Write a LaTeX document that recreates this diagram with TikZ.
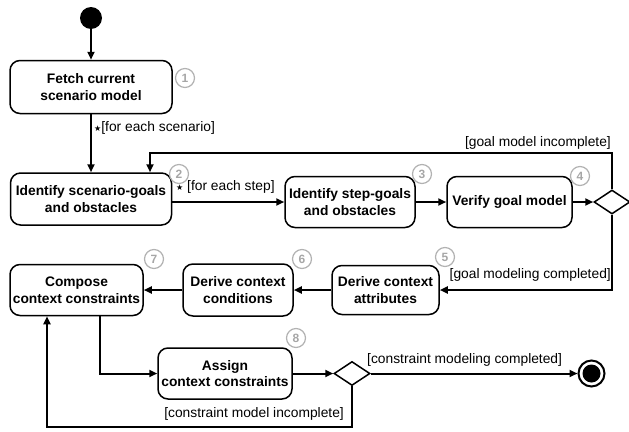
\documentclass[tikz,border=0pt]{standalone}
\usepackage{fontspec}
\setmainfont{Liberation Sans}
\newfontfamily\symfont{DejaVu Sans}
\usetikzlibrary{arrows.meta,shapes.geometric}
\newcommand{\stargl}{{\symfont\fontsize{8}{8}\selectfont\raisebox{0.5pt}{★}}}
\begin{document}
\begin{tikzpicture}[x=1pt,y=-1pt,
  act/.style={draw, line width=1.5pt, rounded corners=10pt, align=center,
    font=\bfseries\fontsize{13.8}{16.5}\selectfont, inner sep=0pt},
  num/.style={draw=gray!60, text=gray!70, line width=1.2pt, circle,
    minimum size=19pt, inner sep=0pt, font=\bfseries\fontsize{12}{12}\selectfont},
  lbl/.style={font=\fontsize{13.8}{16}\selectfont, inner sep=0pt},
  dec/.style={draw, diamond, line width=1.5pt, minimum width=36pt, minimum height=24pt, inner sep=0pt},
  arr/.style={line width=2pt, -{Triangle[length=8pt,width=7pt]}}
]
\useasboundingbox (0,0) rectangle (629,431);
% start
\node[circle, fill=black, minimum size=22pt, inner sep=0pt] (start) at (91,18) {};
% activities
\node[act, minimum width=162pt, minimum height=53pt] (n1) at (91,87) {Fetch current\\scenario model};
\node[act, minimum width=161pt, minimum height=52pt] (n2) at (91,199) {Identify scenario-goals\\and obstacles};
\node[act, minimum width=130pt, minimum height=51pt] (n3) at (350,202) {Identify step-goals\\and obstacles};
\node[act, minimum width=125pt, minimum height=51pt] (n4) at (509.5,202) {Verify goal model};
\node[dec] (d1) at (612,202) {};
\node[act, minimum width=107pt, minimum height=49pt] (n5) at (385.5,290) {Derive context\\attributes};
\node[act, minimum width=110pt, minimum height=52pt] (n6) at (238,290) {Derive context\\conditions};
\node[act, minimum width=133pt, minimum height=51pt] (n7) at (76.5,290) {Compose\\context constraints};
\node[act, minimum width=134pt, minimum height=51pt] (n8) at (225,373.5) {Assign\\context constraints};
\node[dec] (d2) at (352,373.5) {};
\node[circle, draw, line width=2pt, minimum size=26pt, inner sep=0pt] (fin) at (591.5,373.5) {};
\node[circle, fill=black, minimum size=18pt, inner sep=0pt] (finin) at (fin) {};
% numbers
\node[num] (c1) at (185,78) {1};
\node[num] (c2) at (179,174) {2};
\node[num] (c3) at (422,174) {3};
\node[num] (c4) at (580,176) {4};
\node[num] (c5) at (445,257) {5};
\node[num] (c6) at (302,259) {6};
\node[num] (c7) at (154,259) {7};
\node[num] (c8) at (296,338) {8};
% connectors
\draw[arr] (start) -- (n1);
\draw[arr] (n1) -- (n2);
\draw[arr] (n2.east |- n3.west) -- (n3.west);
\draw[arr] (n3) -- (n4);
\draw[arr] (n4) -- (d1);
\coordinate (l1) at (150,153);
\draw[arr] (d1.north) |- (l1) -- (l1 |- n2.north);
\draw[arr] (d1.south) |- (n5.east);
\draw[arr] (n5) -- (n6);
\draw[arr] (n6) -- (n7);
\draw[arr] ([xshift=23.5pt]n7.south) |- (n8.west);
\draw[arr] (n8) -- (d2);
\draw[arr] (d2) -- (fin);
\coordinate (l2) at (47,427);
\draw[arr] (d2.south) |- (l2) -- (l2 |- n7.south);
% labels
\node[lbl, anchor=west] (t1) at (94,128) {\stargl[for each scenario]};
\node[lbl, anchor=west] (t2) at (176,187) {\stargl\ [for each step]};
\node[lbl, anchor=east] (t3) at (611,143) {[goal model incomplete]};
\node[lbl, anchor=east] (t4) at (611,275) {[goal modeling completed]};
\node[lbl, anchor=west] (t5) at (367,360) {[constraint modeling completed]};
\node[lbl, anchor=east] (t6) at (344,414) {[constraint model incomplete]};
\end{tikzpicture}
\end{document}
